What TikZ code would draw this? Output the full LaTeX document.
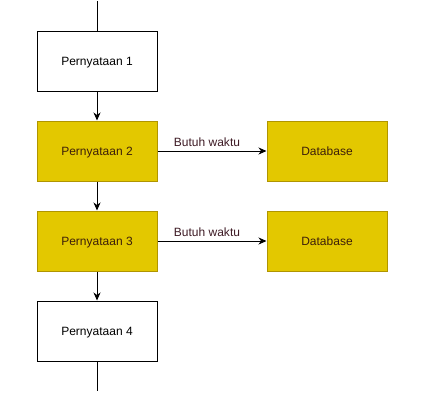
\documentclass[tikz,border=0pt]{standalone}
\usepackage{fontspec}
\setmainfont{Liberation Sans}
\usetikzlibrary{arrows.meta}
\definecolor{dbfill}{HTML}{E3C800}
\definecolor{dbline}{HTML}{B09500}
\definecolor{dbtext}{HTML}{3D1F0A}
\definecolor{waittext}{HTML}{3D1A24}

\begin{document}
\begin{tikzpicture}[x=1pt,y=-1pt]
    \tikzset{
        stmt/.style={draw,rectangle,minimum width=120pt,minimum height=60pt,
            inner sep=0pt,line width=1pt,fill=white,text height=8.6pt,text depth=0pt,
            font=\fontsize{12}{14}\selectfont},
        busy/.style={stmt,fill=dbfill,draw=dbline,text=dbtext},
        flow/.style={line width=1pt,-{Stealth[length=8pt,width=7pt,inset=2.5pt]}}
    }
    \useasboundingbox (0,0) rectangle (422,400);
    % statements
    \node[stmt] (p1) at (97,61)  {Pernyataan 1};
    \node[busy] (p2) at (97,151) {Pernyataan 2};
    \node[busy] (p3) at (97,241) {Pernyataan 3};
    \node[stmt] (p4) at (97,331) {Pernyataan 4};
    % databases
    \node[busy] (d2) at (327,151) {Database};
    \node[busy] (d3) at (327,241) {Database};
    % loose ends
    \coordinate (top) at (97,1);
    \coordinate (bottom) at (97,391);
    % flow
    \draw[line width=1pt] (top) -- (p1);
    \draw[flow] (p1) -- (p2);
    \draw[flow] (p2) -- (p3);
    \draw[flow] (p3) -- (p4);
    \draw[line width=1pt] (p4) -- (bottom);
    \foreach \s/\d in {p2/d2,p3/d3}
        \draw[flow] (\s) -- node[above=1pt,xshift=-5pt,text=waittext,
            font=\fontsize{12}{14}\selectfont] {Butuh waktu} (\d);
\end{tikzpicture}
\end{document}
